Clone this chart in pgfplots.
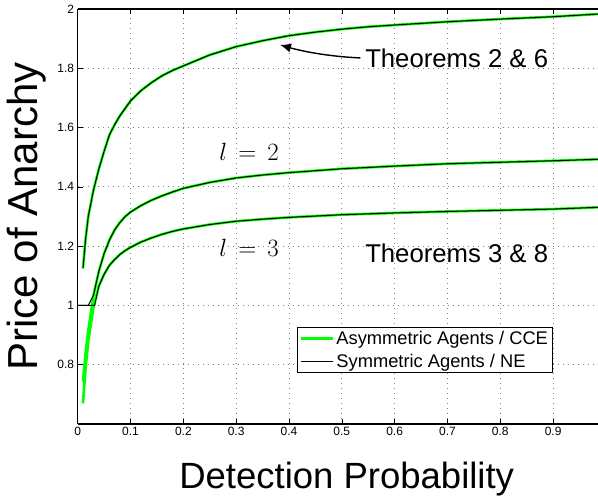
\documentclass[border=0pt]{standalone}
\usepackage{fontspec}
\setmainfont{Liberation Sans}
\usepackage{pgfplots}
\pgfplotsset{compat=1.18}
\usetikzlibrary{arrows.meta,calc}

\definecolor{cceGreen}{rgb}{0,1,0}

\begin{document}
\begin{tikzpicture}
\useasboundingbox (-77.7pt,-72pt) rectangle (520.3pt,424pt);
\begin{axis}[
  scale only axis, width=520.3pt, height=415pt,
  xmin=0, xmax=0.985, ymin=0.6, ymax=2,
  xtick={0,0.1,0.2,0.3,0.4,0.5,0.6,0.7,0.8,0.9},
  ytick={0.8,1,1.2,1.4,1.6,1.8,2},
  xticklabels={0,0.1,0.2,0.3,0.4,0.5,0.6,0.7,0.8,0.9},
  yticklabels={0.8,1,1.2,1.4,1.6,1.8,2},
  axis y line*=left,
  grid=major,
  major grid style={dash pattern=on 1.2pt off 3.8pt, black!50, line width=0.8pt},
  axis line style={line width=1.1pt},
  tick style={black, line width=0.6pt},
  major tick length=5pt,
  tick label style={font=\fontsize{12}{14}\selectfont},
  /pgf/number format/assume math mode=true,
  legend style={at={(rel axis cs:0.4215,0.123)}, anchor=south west,
    font=\fontsize{18.3}{21}\selectfont, draw=black, line width=0.8pt,
    inner sep=2pt, row sep=4pt, cells={anchor=west}},
  legend image post style={xscale=1.9},
]
% Asymmetric Agents / CCE (green)
\addplot[cceGreen, line width=2.6pt] coordinates {
 (0.01,1.125) (0.015,1.225) (0.02,1.30) (0.03,1.39) (0.04,1.46) (0.05,1.52)
 (0.06,1.575) (0.07,1.61) (0.08,1.64) (0.09,1.665) (0.10,1.69) (0.12,1.725)
 (0.14,1.752) (0.16,1.775) (0.18,1.793) (0.20,1.808) (0.25,1.845) (0.30,1.873)
 (0.35,1.893) (0.40,1.91) (0.45,1.922) (0.50,1.932) (0.55,1.94) (0.60,1.946)
 (0.70,1.957) (0.80,1.966) (0.90,1.974) (0.985,1.983)};
\addlegendentry{Asymmetric Agents / CCE}
% Symmetric Agents / NE (black)
\addplot[black, line width=1pt] coordinates {
 (0.01,1.125) (0.015,1.225) (0.02,1.30) (0.03,1.39) (0.04,1.46) (0.05,1.52)
 (0.06,1.575) (0.07,1.61) (0.08,1.64) (0.09,1.665) (0.10,1.69) (0.12,1.725)
 (0.14,1.752) (0.16,1.775) (0.18,1.793) (0.20,1.808) (0.25,1.845) (0.30,1.873)
 (0.35,1.893) (0.40,1.91) (0.45,1.922) (0.50,1.932) (0.55,1.94) (0.60,1.946)
 (0.70,1.957) (0.80,1.966) (0.90,1.974) (0.985,1.983)};
\addlegendentry{Symmetric Agents / NE}
% l = 2
\addplot[cceGreen, line width=2.6pt, forget plot] coordinates {
 (0.01,0.743) (0.015,0.84) (0.02,0.915) (0.03,1.035) (0.04,1.115) (0.05,1.175)
 (0.06,1.22) (0.07,1.255) (0.08,1.28) (0.09,1.30) (0.10,1.315) (0.12,1.337)
 (0.14,1.355) (0.16,1.37) (0.18,1.383) (0.20,1.395) (0.25,1.415) (0.30,1.43)
 (0.35,1.44) (0.40,1.448) (0.50,1.461) (0.60,1.47) (0.70,1.478) (0.80,1.483)
 (0.90,1.488) (0.985,1.493)};
\addplot[black, line width=1pt, forget plot] coordinates {
 (0,1) (0.02,1) (0.03,1.035) (0.04,1.115) (0.05,1.175)
 (0.06,1.22) (0.07,1.255) (0.08,1.28) (0.09,1.30) (0.10,1.315) (0.12,1.337)
 (0.14,1.355) (0.16,1.37) (0.18,1.383) (0.20,1.395) (0.25,1.415) (0.30,1.43)
 (0.35,1.44) (0.40,1.448) (0.50,1.461) (0.60,1.47) (0.70,1.478) (0.80,1.483)
 (0.90,1.488) (0.985,1.493)};
% l = 3
\addplot[cceGreen, line width=2.6pt, forget plot] coordinates {
 (0.01,0.67) (0.015,0.79) (0.02,0.88) (0.03,0.995) (0.04,1.065) (0.05,1.105)
 (0.06,1.135) (0.07,1.155) (0.08,1.172) (0.09,1.185) (0.10,1.196) (0.12,1.214)
 (0.14,1.228) (0.16,1.24) (0.18,1.25) (0.20,1.258) (0.25,1.273) (0.30,1.284)
 (0.35,1.291) (0.40,1.297) (0.50,1.306) (0.60,1.312) (0.70,1.317) (0.80,1.321)
 (0.90,1.325) (0.985,1.331)};
\addplot[black, line width=1pt, forget plot] coordinates {
 (0,1) (0.032,1) (0.04,1.065) (0.05,1.105)
 (0.06,1.135) (0.07,1.155) (0.08,1.172) (0.09,1.185) (0.10,1.196) (0.12,1.214)
 (0.14,1.228) (0.16,1.24) (0.18,1.25) (0.20,1.258) (0.25,1.273) (0.30,1.284)
 (0.35,1.291) (0.40,1.297) (0.50,1.306) (0.60,1.312) (0.70,1.317) (0.80,1.321)
 (0.90,1.325) (0.985,1.331)};

\node[anchor=west, font=\fontsize{25.7}{30}\selectfont, inner sep=0pt] at (axis cs:0.544,1.835) {Theorems 2 \& 6};
\node[anchor=west, font=\fontsize{25.7}{30}\selectfont, inner sep=0pt] at (axis cs:0.544,1.177) {Theorems 3 \& 8};
\node[anchor=west, font=\fontsize{35}{40}\selectfont, inner sep=0pt] at (axis cs:0.268,1.517) {$l\,=\,2$};
\node[anchor=west, font=\fontsize{35}{40}\selectfont, inner sep=0pt] at (axis cs:0.268,1.194) {$l\,=\,3$};
\draw[-{Latex[length=11pt,width=9pt]}, line width=1.4pt]
  (axis cs:0.535,1.835) .. controls (axis cs:0.47,1.84) and (axis cs:0.42,1.86) .. (axis cs:0.383,1.879);
\end{axis}
\node[font=\fontsize{42}{48}\selectfont, rotate=90] at ($(0,207.5pt)+(-50.7pt,0)$) {Price of Anarchy};
\node[font=\fontsize{36.5}{42}\selectfont, anchor=base] at (269pt,-64pt) {Detection Probability};
\end{tikzpicture}
\end{document}
